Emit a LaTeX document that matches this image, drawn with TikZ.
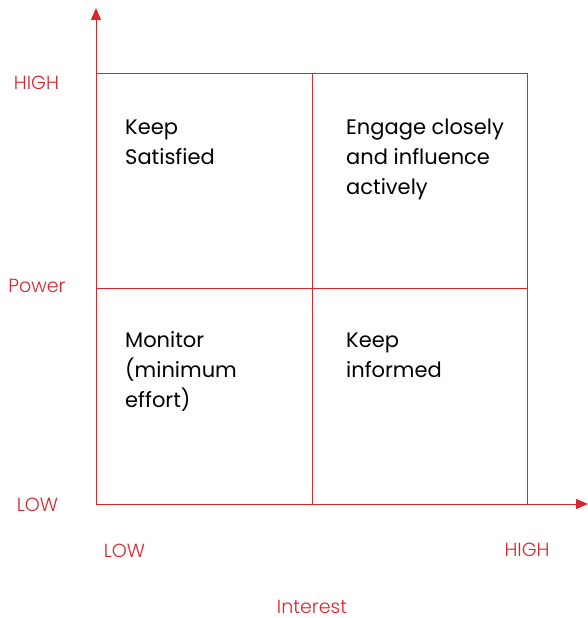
\documentclass[tikz,border=0pt]{standalone}
\usepackage{fontspec}
\setmainfont{Poppins}
\newfontfamily\thinfont{Poppins Light}
\usetikzlibrary{arrows.meta,positioning}
\definecolor{gridred}{HTML}{D9252E}
\tikzset{
    axis/.style={line width=1pt,color=gridred,-{Triangle[length=12pt,width=10pt]}},
    gridline/.style={line width=0.9pt,color=gridred},
    quadtext/.style={anchor=base west,inner sep=0pt,align=left,font=\fontsize{21}{30}\selectfont},
    levellabel/.style={anchor=base,inner sep=0pt,text=gridred,font=\thinfont\fontsize{19}{22}\selectfont}
}

\begin{document}
\begin{tikzpicture}[x=1pt,y=-1pt]
    \useasboundingbox (0,0) rectangle (588,618);

    % corners of the grid
    \coordinate (origin) at (96,504);
    \coordinate (topright) at (527,73);
    \coordinate (centre) at (312,288);
    \coordinate (ytip) at (96,8);
    \coordinate (xtip) at (588,504);

    % draw the grid
    \draw[gridline] (origin) rectangle (topright);
    \draw[gridline] (origin -| centre) -- (topright -| centre);
    \draw[gridline] (origin |- centre) -- (topright |- centre);

    % draw the axes
    \draw[axis] (origin) -- (ytip);
    \draw[axis] (origin) -- (xtip);

    % quadrant texts (placed at the baseline of their last line)
    \node[quadtext] (satisfied) at (125,164) {Keep\\Satisfied};
    \node[quadtext] (engage) at (346,194) {Engage closely\\and influence\\actively};
    \node[quadtext] (monitor) at (125,407) {Monitor\\(minimum\\effort)};
    \node[quadtext] (informed) at (346,377) {Keep\\informed};

    % label the axes
    \node[levellabel] (powerhigh) at (36.5,89) {HIGH};
    \node[levellabel] (power) at (37,292) {Power};
    \node[levellabel] (powerlow) at (37.5,511) {LOW};
    \node[levellabel] (interestlow) at (124.5,557) {LOW};
    \node[levellabel] (interesthigh) at (527,556) {HIGH};
    \node[levellabel] (interest) at (312,613) {Interest};
\end{tikzpicture}
\end{document}
